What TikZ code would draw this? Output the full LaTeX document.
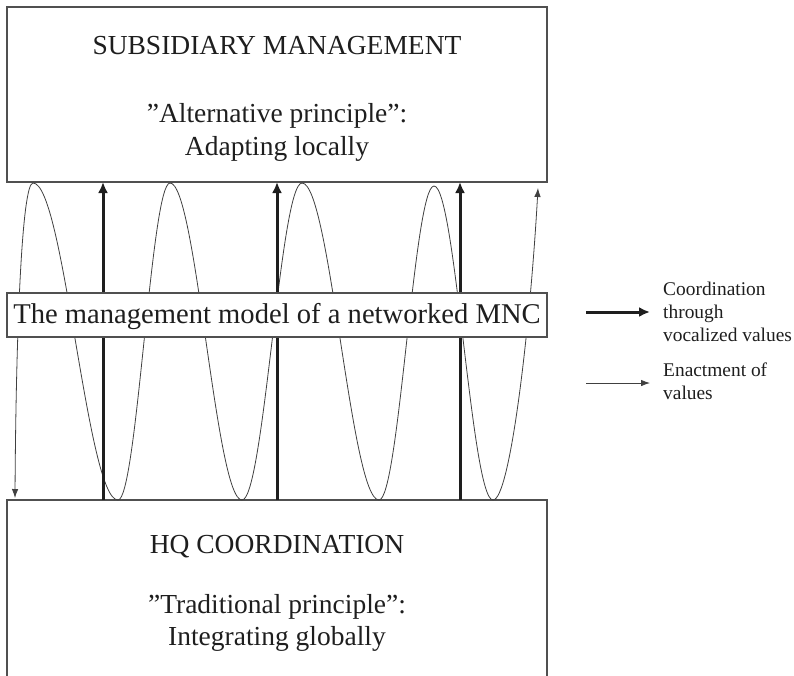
\documentclass[tikz,border=0pt]{standalone}
\usepackage{fontspec}
\setmainfont{Liberation Serif}
\usetikzlibrary{arrows.meta}
\definecolor{boxline}{HTML}{505050}
\definecolor{ink}{HTML}{1E1E1E}
\definecolor{waveink}{HTML}{404040}
\begin{document}
\begin{tikzpicture}[x=1pt,y=-1pt,
  box/.style={draw=boxline, line width=1.1pt, rectangle, inner sep=0pt, outer sep=0pt, minimum width=540pt},
  boxtext/.style={font=\fontsize{27.5}{33}\selectfont, text=ink, anchor=base, inner sep=0pt},
  legendtext/.style={font=\fontsize{19.4}{23}\selectfont, text=ink, anchor=base west, inner sep=0pt},
  coordarrow/.style={draw=ink, line width=3pt, -{Latex[length=11pt,width=10pt]}},
  enactarrow/.style={draw=waveink, line width=0.8pt, -{Latex[length=9pt,width=6.5pt]}},
  waveline/.style={draw=waveink, line width=0.8pt, {Latex[length=9pt,width=6.5pt]}-{Latex[length=9pt,width=6.5pt]}},
]
\useasboundingbox (0,0) rectangle (794,675);
\clip (0,0) rectangle (794,675);

% top and bottom boxes
\node[box, minimum height=175pt] (sub) at (277,94.5) {};
\node[box, minimum height=200pt] (hq) at (277,600) {};

% enactment wave
\draw[waveline] (15,498) .. controls (16,330) and (22,183) .. (33,183)
  cos (75.5,341.5) sin (118,500) cos (144,341.5) sin (170,183)
  cos (206,341.5) sin (242,500) cos (272,341.5) sin (302,183)
  cos (340.5,341.5) sin (379,500) cos (406.5,343) sin (434,186)
  cos (463.5,343) sin (493,500) .. controls (510,500) and (530,330) .. (538,188);

% coordination arrows
\coordinate (a1s) at (103,500); \coordinate (a1e) at (103,182);
\coordinate (a2s) at (277,500); \coordinate (a2e) at (277,182);
\coordinate (a3s) at (460,500); \coordinate (a3e) at (460,182);
\draw[coordarrow] (a1s) -- (a1e);
\draw[coordarrow] (a2s) -- (a2e);
\draw[coordarrow] (a3s) -- (a3e);

% middle box
\node[box, fill=white, minimum height=44pt, text=ink,
      font=\fontsize{28.6}{33}\selectfont, text height=20pt, text depth=4pt]
  (model) at (277,315) {The management model of a networked MNC};

% box texts
\node[boxtext] (subtitle) at (277,54) {SUBSIDIARY MANAGEMENT};
\node[boxtext] (subprin) at (277,122) {”Alternative principle”:};
\node[boxtext] (subdesc) at (277,155) {Adapting locally};
\node[boxtext] (hqtitle) at (277,553) {HQ COORDINATION};
\node[boxtext] (hqprin) at (277,613) {”Traditional principle”:};
\node[boxtext] (hqdesc) at (277,645) {Integrating globally};

% legend
\coordinate (l1s) at (586,312); \coordinate (l1e) at (650,312);
\coordinate (l2s) at (586,383); \coordinate (l2e) at (650,383);
\draw[coordarrow] (l1s) -- (l1e);
\draw[enactarrow] (l2s) -- (l2e);
\node[legendtext] (lg1) at (663,295) {Coordination};
\node[legendtext] (lg2) at (663,318) {through};
\node[legendtext] (lg3) at (663,341) {vocalized values};
\node[legendtext] (lg4) at (663,376) {Enactment of};
\node[legendtext] (lg5) at (663,399) {values};
\end{tikzpicture}
\end{document}
